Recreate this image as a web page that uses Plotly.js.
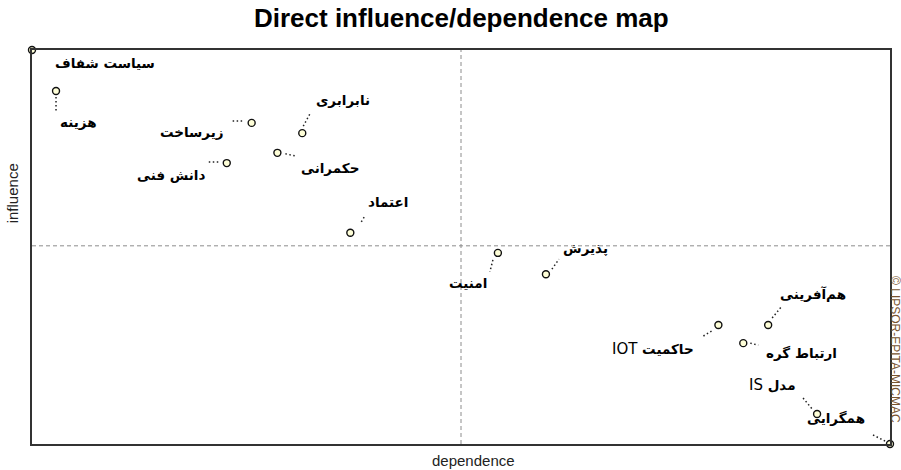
<!DOCTYPE html>
<html>
<head>
<meta charset="utf-8">
<script src="https://cdn.plot.ly/plotly-3.0.1.min.js"></script>
<style>html,body{margin:0;padding:0;background:#fff;}#chart{width:901px;height:470px;}</style>
</head>
<body>
<div id="chart"></div>
<script>
// Variables (Persian labels)
const labels = ["سیاست شفاف", "هزینه", "زیرساخت", "نابرابری", "حکمرانی", "دانش فنی", "اعتماد",
  "امنیت", "پذیرش", "هم‌آفرینی", "حاکمیت IOT", "ارتباط گره", "مدل IS", "همگرایی"];
// Dependence (x) and influence (y), in % of axis range
const dependence = [0, 2.8, 25.6, 31.5, 28.6, 22.7, 37.1, 54.3, 59.9, 85.8, 80.0, 82.9, 91.5, 100];
const influence  = [100, 89.6, 81.5, 78.9, 73.9, 71.3, 53.6, 48.5, 43.1, 30.2, 30.2, 25.6, 7.6, 0];
const meanDependence = 50.0;
const meanInfluence = 50.3;

// Layout-only: label centre offsets (px, screen: +dx right, +dy down)
const labelOffsets = [[73,13],[22,31],[-60,9],[41,-33],[53,15],[-56,12],[38,-31],
  [-30,30],[40,-26],[45,-31],[-65,24],[58,10],[-45,-29],[-54,-26]];
// Layout-only: dotted leader segments (px offsets from marker, screen coords)
const leaders = [null,[0,6,0,20],[-19,-2,-8,-2],[1,-7,8,-20],[8,1,18,3],[-18,-1,-7,-1],[11,-11,14,-16],
  [-5,7,-8,19],[6,-5,13,-15],[4,-7,13,-18],[-15,11,-5,5],[7,0,15,2],[-14,-16,-4,-4],[-17,-9,-3,-2]];

// Render a label right-to-left; Latin parts in regular weight
function fmt(t) {
  const s = t.replace(/([A-Za-z]+)/g, "<span style='font-weight:normal;font-size:15px'>$1</span>");
  return /[A-Za-z]/.test(t) ? '\u202B' + s : s;
}

const shapes = [
  {type:'line', xref:'x', yref:'paper', x0:meanDependence, x1:meanDependence, y0:0, y1:1,
   line:{color:'#8c8c8c', width:1, dash:'4px,3px'}, layer:'below'},
  {type:'line', xref:'paper', yref:'y', x0:0, x1:1, y0:meanInfluence, y1:meanInfluence,
   line:{color:'#8c8c8c', width:1, dash:'4px,3px'}, layer:'below'}
];
leaders.forEach((l, i) => {
  if (!l) return;
  shapes.push({type:'line', xref:'x', yref:'y', xsizemode:'pixel', ysizemode:'pixel',
    xanchor:dependence[i], yanchor:influence[i], x0:l[0], x1:l[2], y0:-l[1], y1:-l[3],
    line:{color:'#222', width:1.5, dash:'1.5px,2.5px'}});
});

const annotations = labels.map((t, i) => ({
  x: dependence[i], y: influence[i], xref:'x', yref:'y', text: fmt(t), showarrow:false,
  xanchor:'center', yanchor:'middle', xshift: labelOffsets[i][0], yshift: -labelOffsets[i][1],
  font:{family:'DejaVu Sans, Liberation Sans, sans-serif', size:13.5, color:'#000', weight:'bold'}
}));
annotations.push({xref:'paper', yref:'paper', x:0.514, y:0, yanchor:'top', yshift:-6, showarrow:false,
  text:'dependence', font:{family:'Liberation Sans, Arial, sans-serif', size:15, color:'#222'}});
annotations.push({xref:'paper', yref:'paper', x:0, y:0.635, xanchor:'right', xshift:-9, showarrow:false,
  textangle:-90, text:'influence', font:{family:'Liberation Sans, Arial, sans-serif', size:15, color:'#222'}});
annotations.push({xref:'paper', yref:'paper', x:1, y:0.241, xanchor:'left', yanchor:'middle', xshift:-3, showarrow:false,
  borderpad:0, textangle:90, text:'© LIPSOR-EPITA-MICMAC', font:{family:'Liberation Sans, Arial, sans-serif', size:12, color:'#7a5530'}});

const trace = {
  x: dependence, y: influence, mode:'markers', type:'scatter', cliponaxis:false, hoverinfo:'skip',
  marker:{symbol:'circle', size:7, color:'#ffffd8', line:{color:'#111', width:1.4}}
};

const axisBase = {showgrid:false, zeroline:false, showticklabels:false, ticks:'',
  showline:true, mirror:true, linecolor:'#333', linewidth:2, fixedrange:true};

const layout = {
  width:901, height:470,
  margin:{l:32, r:11, t:50, b:26},
  paper_bgcolor:'#fff', plot_bgcolor:'#fff',
  title:{text:'<b>Direct influence/dependence map</b>', x:0.512, xanchor:'center', y:0.962, yanchor:'middle',
    font:{family:'Liberation Sans, Arial, sans-serif', size:26, color:'#000'}},
  xaxis:Object.assign({range:[0,100]}, axisBase),
  yaxis:Object.assign({range:[0,100]}, axisBase),
  shapes: shapes,
  annotations: annotations,
  showlegend:false
};

Plotly.newPlot('chart', [trace], layout, {staticPlot:true, displayModeBar:false});
</script>
</body>
</html>
